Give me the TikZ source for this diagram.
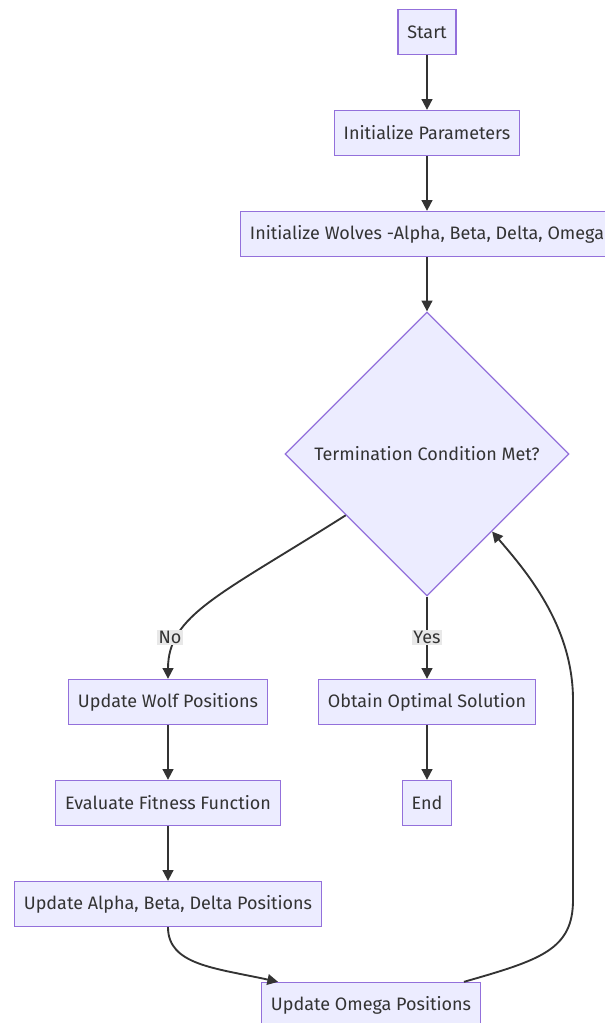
\documentclass[tikz,border=0pt]{standalone}
\usepackage{fontspec}
\setmainfont{Fira Sans}
\usetikzlibrary{shapes.geometric,arrows.meta}
\definecolor{mmfill}{HTML}{ECECFF}
\definecolor{mmline}{HTML}{9370DB}
\definecolor{mmtext}{HTML}{333333}
\definecolor{mmlabel}{HTML}{E8E8E8}
\tikzset{
  box/.style={draw=mmline,fill=mmfill,text=mmtext,line width=1pt,minimum height=33.75pt,inner xsep=7pt},
  decision/.style={diamond,aspect=1,draw=mmline,fill=mmfill,text=mmtext,line width=1pt,minimum size=213pt,inner sep=0pt},
  arr/.style={draw=mmtext,line width=1.4pt,-{Triangle[length=8pt,width=8pt]}},
  lbl/.style={fill=mmlabel,text=mmtext,inner sep=1pt}
}
\begin{document}
\begin{tikzpicture}[x=0.75pt,y=-0.75pt,font=\fontsize{13.5}{16}\selectfont]
\clip (0,0) rectangle (605,1023);
\node[box](start)at(427,32){Start};
\node[box](initpar)at(427,133){Initialize Parameters};
\node[box](initwolf)at(427,234){Initialize Wolves -Alpha, Beta, Delta, Omega};
\node[decision](cond)at(427,454){Termination Condition Met?};
\node[box](upwolf)at(168,702){Update Wolf Positions};
\node[box](optsol)at(427,702){Obtain Optimal Solution};
\node[box](evalfit)at(168,803){Evaluate Fitness Function};
\node[box](stop)at(427,803){End};
\node[box](upabd)at(168,904){Update Alpha, Beta, Delta Positions};
\node[box](upomega)at(371,1005){Update Omega Positions};
\draw[arr](start)--(initpar);
\draw[arr](initpar)--(initwolf);
\draw[arr](initwolf)--(cond);
\draw[arr](cond.-143)..controls(220,595)and(168,615)..(upwolf.north)node[lbl,pos=0.75,xshift=-6pt]{No};
\draw[arr](cond.south)--(optsol.north)node[lbl,midway]{Yes};
\draw[arr](optsol)--(stop);
\draw[arr](upwolf)--(evalfit);
\draw[arr](evalfit)--(upabd);
\draw[arr](upabd.south)..controls(168,965)and(215,968)..(upomega.166);
\draw[arr](upomega.14)..controls(540,960)and(573,950)..(573,900)--(573,700)..controls(573,625)and(525,570)..(cond.-50);
\end{tikzpicture}
\end{document}
